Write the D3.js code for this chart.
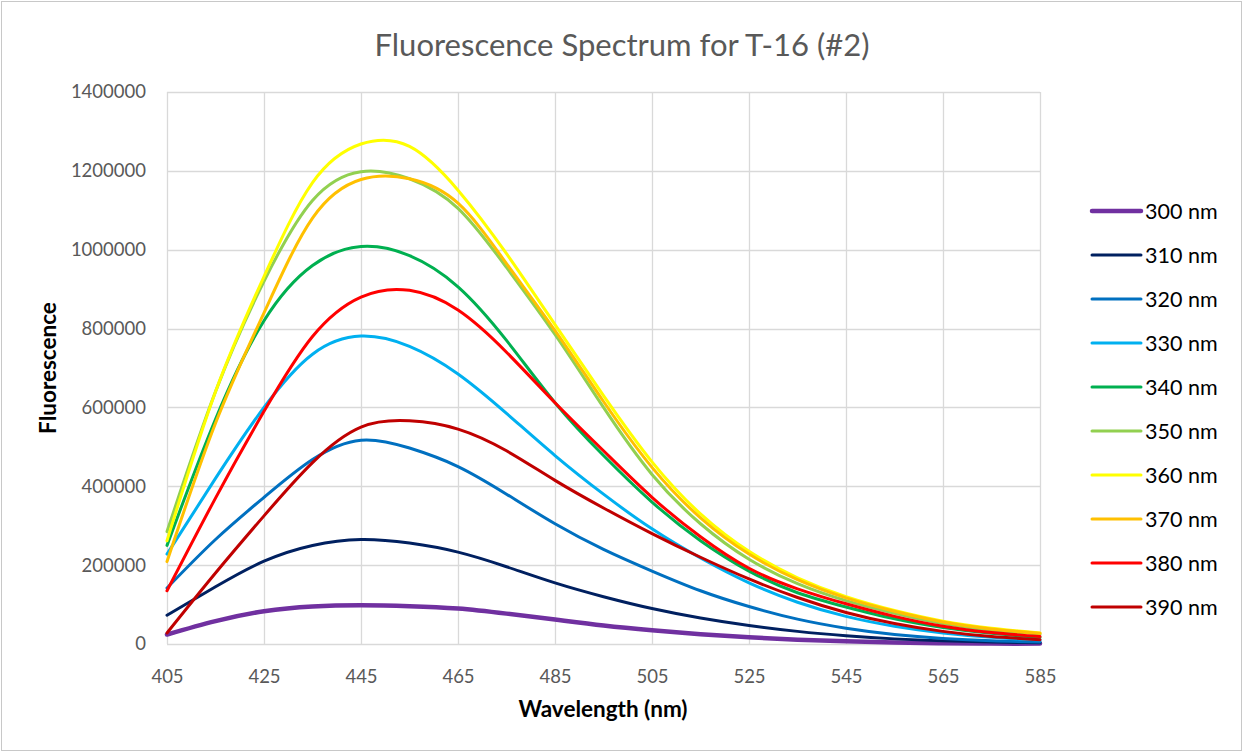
<!DOCTYPE html>
<html>
<head>
<meta charset="utf-8">
<script src="https://cdn.jsdelivr.net/npm/d3@7"></script>
<style>
  body { margin: 0; background: #fff; }
  text { font-family: Lato, "Open Sans", sans-serif; }
</style>
</head>
<body>
<svg id="chart" width="1244" height="753"></svg>
<script>
// wavelengths (nm), one reading every 10 nm
const wavelengths = [405, 415, 425, 435, 445, 455, 465, 475, 485, 495, 505, 515, 525, 535, 545, 555, 565, 575, 585];

// fluorescence readings (thousands)
const ex300 = [24, 58, 83, 95, 98, 96, 90, 77, 62, 47, 35, 25, 17, 11, 7, 4, 2, 1, 1];
const ex310 = [73, 145, 210, 250, 265, 256, 233, 196, 155, 120, 90, 66, 47, 32, 21, 13, 8, 5, 3];
const ex320 = [142, 265, 372, 468, 517, 497, 450, 380, 305, 240, 185, 135, 95, 63, 40, 24, 14, 8, 5];
const ex330 = [228, 420, 600, 735, 781, 755, 685, 585, 478, 380, 292, 218, 155, 106, 70, 45, 28, 17, 10];
const ex340 = [250, 570, 820, 960, 1008, 985, 906, 770, 612, 478, 360, 262, 185, 130, 94, 64, 42, 27, 17];
const ex350 = [285, 640, 920, 1125, 1198, 1180, 1105, 955, 785, 600, 430, 305, 215, 153, 110, 78, 52, 35, 25];
const ex360 = [262, 640, 932, 1170, 1268, 1262, 1151, 990, 810, 630, 462, 330, 235, 168, 120, 85, 58, 40, 28];
const ex370 = [209, 560, 840, 1080, 1178, 1180, 1118, 965, 795, 615, 448, 320, 228, 163, 117, 83, 56, 38, 27];
const ex380 = [135, 370, 590, 780, 880, 897, 847, 740, 612, 490, 372, 272, 192, 140, 102, 70, 45, 29, 19];
const ex390 = [28, 180, 325, 460, 550, 566, 545, 490, 415, 345, 280, 220, 165, 118, 80, 52, 32, 19, 11];

const seriesNames = ["300 nm", "310 nm", "320 nm", "330 nm", "340 nm", "350 nm", "360 nm", "370 nm", "380 nm", "390 nm"];
const seriesColors = ["#7030A0", "#002060", "#0070C0", "#00B0F0", "#00B050", "#92D050", "#FFFF00", "#FFC000", "#FF0000", "#C00000"];
const seriesValues = [ex300, ex310, ex320, ex330, ex340, ex350, ex360, ex370, ex380, ex390];

const xTicks = [405, 425, 445, 465, 485, 505, 525, 545, 565, 585];
const yTicks = [0, 200000, 400000, 600000, 800000, 1000000, 1200000, 1400000];

const svg = d3.select("#chart");

// chart border
svg.append("rect")
  .attr("x", 1.5).attr("y", 1.5)
  .attr("width", 1240).attr("height", 749)
  .attr("fill", "#fff")
  .attr("stroke", "#c8c8c8");

const plotLeft = 167, plotRight = 1040, plotTop = 92, plotBottom = 644;

const x = d3.scaleLinear().domain([405, 585]).range([plotLeft, plotRight]);
const y = d3.scaleLinear().domain([0, 1400000]).range([plotBottom, plotTop]);

// gridlines
const grid = svg.append("g");
grid.selectAll("line.h").data(yTicks).enter().append("line")
  .attr("x1", plotLeft).attr("x2", plotRight)
  .attr("y1", d => Math.round(y(d)) + 0.5).attr("y2", d => Math.round(y(d)) + 0.5)
  .attr("stroke", "#d9d9d9").attr("stroke-width", 1.3);
grid.selectAll("line.v").data(xTicks).enter().append("line")
  .attr("y1", plotTop).attr("y2", plotBottom)
  .attr("x1", d => Math.round(x(d)) + 0.5).attr("x2", d => Math.round(x(d)) + 0.5)
  .attr("stroke", "#d9d9d9").attr("stroke-width", 1.3);

// axes (labels only, Excel style)
const yAxis = d3.axisLeft(y).tickValues(yTicks).tickSize(0).tickPadding(21).tickFormat(d3.format("d"));
const gy = svg.append("g").attr("transform", `translate(${plotLeft},0)`).call(yAxis);
gy.select(".domain").remove();
gy.selectAll("text").attr("font-size", 18.5).attr("fill", "#595959")
  .style("font-family", "Lato, 'Open Sans', sans-serif");

const xAxis = d3.axisBottom(x).tickValues(xTicks).tickSize(0).tickPadding(26).tickFormat(d3.format("d"));
const gx = svg.append("g").attr("transform", `translate(0,${plotBottom})`).call(xAxis);
gx.select(".domain").remove();
gx.selectAll("text").attr("font-size", 18.5).attr("fill", "#595959")
  .style("font-family", "Lato, 'Open Sans', sans-serif");

// series lines, smoothed like the spreadsheet
const line = d3.line()
  .x((d, i) => x(wavelengths[i]))
  .y(d => y(d * 1000))
  .curve(d3.curveNatural);

svg.append("g").selectAll("path").data(seriesValues).enter().append("path")
  .attr("d", line)
  .attr("fill", "none")
  .attr("stroke", (d, i) => seriesColors[i])
  .attr("stroke-width", (d, i) => i === 0 ? 4.5 : 3)
  .attr("stroke-linecap", "round")
  .attr("stroke-linejoin", "round");

// title
svg.append("text")
  .attr("x", 622).attr("y", 56)
  .attr("text-anchor", "middle")
  .attr("font-size", 31)
  .attr("fill", "#595959")
  .text("Fluorescence Spectrum for T-16 (#2)");

// axis titles
svg.append("text")
  .attr("transform", "translate(56,368) rotate(-90)")
  .attr("text-anchor", "middle")
  .attr("font-size", 22.5).attr("font-weight", "bold")
  .attr("fill", "#000")
  .text("Fluorescence");

svg.append("text")
  .attr("x", 603).attr("y", 717)
  .attr("text-anchor", "middle")
  .attr("font-size", 22.5).attr("font-weight", "bold")
  .attr("fill", "#000")
  .text("Wavelength (nm)");

// legend
const legend = svg.append("g").selectAll("g").data(seriesNames).enter().append("g")
  .attr("transform", (d, i) => `translate(1092,${211 + i * 44})`);
legend.append("line")
  .attr("x1", 0).attr("x2", 49)
  .attr("stroke", (d, i) => seriesColors[i])
  .attr("stroke-width", (d, i) => i === 0 ? 4.5 : 3)
  .attr("stroke-linecap", "round");
legend.append("text")
  .attr("x", 53).attr("y", 7.5)
  .attr("font-size", 21.5)
  .attr("fill", "#000")
  .text(d => d);
</script>
</body>
</html>
